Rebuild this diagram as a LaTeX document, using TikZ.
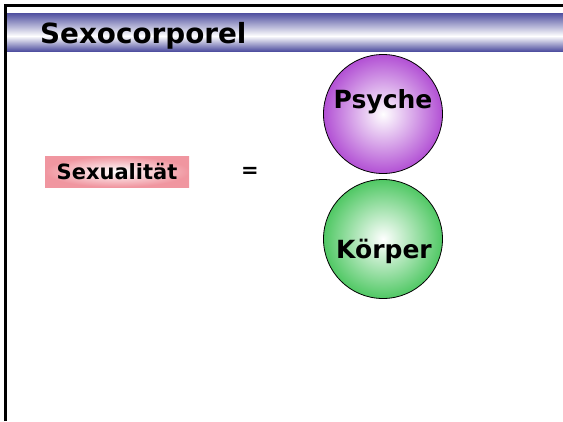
\documentclass[tikz,border=0pt]{standalone}
\usepackage{fontspec}
\setmainfont{DejaVu Sans}
\definecolor{bandblue}{RGB}{80,80,160}
\begin{document}
\begin{tikzpicture}[x=1pt,y=-1pt,
  titletext/.style={font=\bfseries\fontsize{27.8}{32}\selectfont, anchor=base west, inner sep=0},
  balltext/.style={font=\bfseries\fontsize{25}{30}\selectfont, inner sep=0},
  labeltext/.style={font=\bfseries\fontsize{21}{25}\selectfont, inner sep=0},
  ball/.style={draw=black, line width=0.8pt}]
\useasboundingbox (0,0) rectangle (563,421);
\fill[white] (0,0) rectangle (563,421);
% title band
\shade[top color=bandblue, bottom color=white] (7,13) rectangle (563,36);
\shade[top color=white, bottom color=bandblue] (7,36) rectangle (563,51);
% frame
\draw[line width=3pt] (5.5,421) -- (5.5,5.5) -- (563,5.5);
\node[titletext] (title) at (40,43) {Sexocorporel};
% Sexualitaet box
\shade[inner color=white, outer color={rgb,255:red,240;green,150;blue,160}] (45,156) rectangle (189,187);
\node[labeltext] (sex) at (117,172) {Sexualität};
\node[labeltext] (eq) at (250,172) {=};
% balls
\shade[ball, inner color=white, outer color={rgb,255:red,178;green,80;blue,212}] (383,114) circle (59.5);
\node[balltext] (psyche) at (383,102) {Psyche};
\shade[ball, inner color=white, outer color={rgb,255:red,80;green,200;blue,100}] (383,239) circle (59.5);
\node[balltext] (koerper) at (384,251) {Körper};
\end{tikzpicture}
\end{document}
